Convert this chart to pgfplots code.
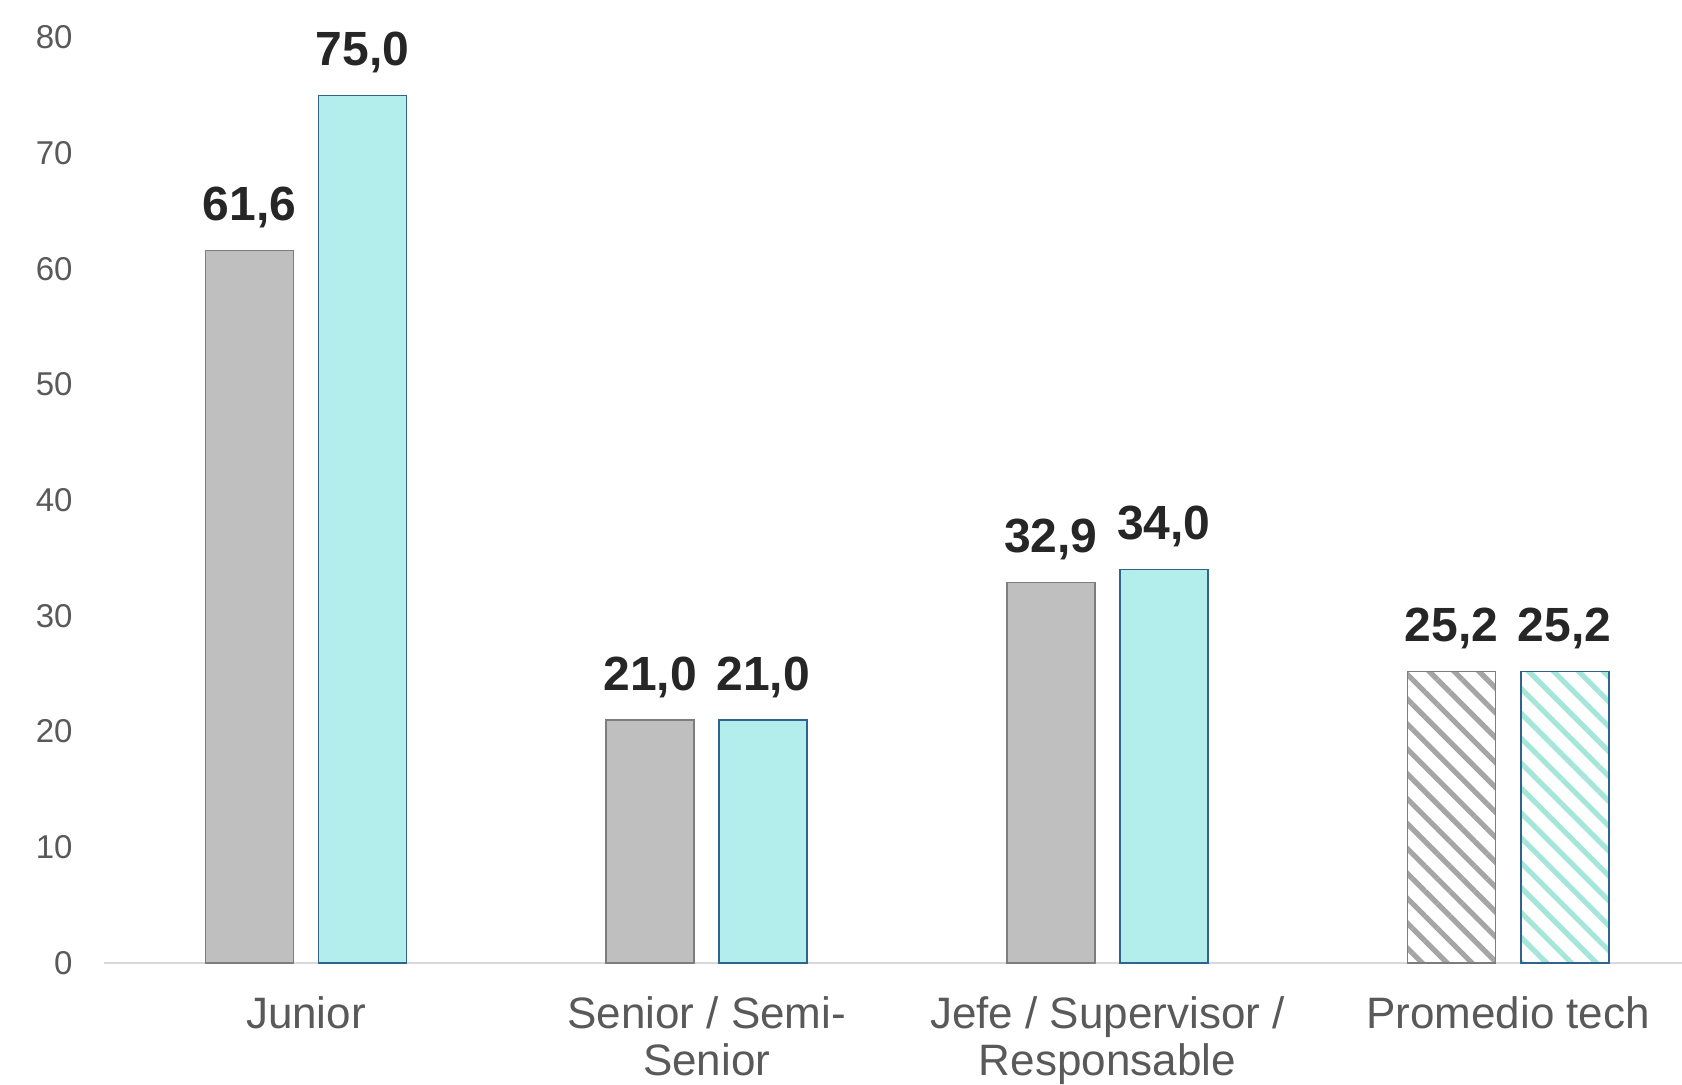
\documentclass[border=0pt]{standalone}
\usepackage{pgfplots}
\pgfplotsset{compat=1.18}
\usepackage{fontspec}
\setmainfont{Liberation Sans}
\usetikzlibrary{patterns.meta}
\definecolor{gbar}{RGB}{191,191,191}
\definecolor{gedge}{RGB}{125,125,125}
\definecolor{cbar}{RGB}{180,238,236}
\definecolor{cedge}{RGB}{47,100,140}
\definecolor{ghatch}{RGB}{165,165,165}
\definecolor{chatch}{RGB}{165,230,218}
\definecolor{ticktxt}{RGB}{89,89,89}
\definecolor{lbl}{RGB}{38,38,38}
\definecolor{axln}{RGB}{217,217,217}
\begin{document}
\begin{tikzpicture}
\begin{axis}[
  at={(0,0)}, anchor=south west,
  width=789pt, height=462.75pt, scale only axis,
  xmin=-0.504, xmax=3.434, ymin=0, ymax=80,
  axis x line*=bottom, axis y line*=left,
  y axis line style={draw=none},
  x axis line style={draw=axln, line width=1pt, -},
  xtick={0,1,2,3},
  xticklabels={Junior,{Senior / Semi-\\Senior},{Jefe / Supervisor /\\Responsable},Promedio tech},
  xticklabel style={align=center, font=\fontsize{22}{23.5}\selectfont, text=ticktxt, anchor=north, inner sep=0pt, yshift=-12.5pt},
  ytick={0,10,...,80},
  yticklabel style={font=\fontsize{16.5}{18}\selectfont, text=ticktxt, anchor=east, inner sep=0pt, xshift=-15.5pt},
  /pgf/number format/assume math mode=true,
  tick style={draw=none},
  ybar, bar width=44pt,
  nodes near coords={\pgfmathprintnumber[fixed,fixed zerofill,precision=1,use comma]{\pgfplotspointmeta}},
  nodes near coords style={font=\fontsize{24}{26}\selectfont\bfseries, text=lbl, anchor=base, yshift=15pt, inner sep=0pt},
  clip=false,
]
\addplot[bar shift=-28.3pt, fill=gbar, draw=gedge, line width=0.8pt] coordinates {(0,61.6) (1,21.0) (2,32.9)};
\addplot[bar shift=28.3pt, fill=cbar, draw=cedge, line width=0.8pt] coordinates {(0,75.0) (1,21.0) (2,34.0)};
\addplot[bar shift=-28.3pt, fill=white, draw=gedge, line width=0.8pt, postaction={pattern={Lines[angle=-45,distance=8.8pt,line width=2.6pt]}, pattern color=ghatch}] coordinates {(3,25.2)};
\addplot[bar shift=28.3pt, fill=white, draw=cedge, line width=0.8pt, postaction={pattern={Lines[angle=-45,distance=8.8pt,line width=2.6pt]}, pattern color=chatch}] coordinates {(3,25.2)};
\end{axis}
\pgfresetboundingbox
\useasboundingbox (-52pt,-60.5pt) rectangle (789pt,481.5pt);
\end{tikzpicture}
\end{document}
